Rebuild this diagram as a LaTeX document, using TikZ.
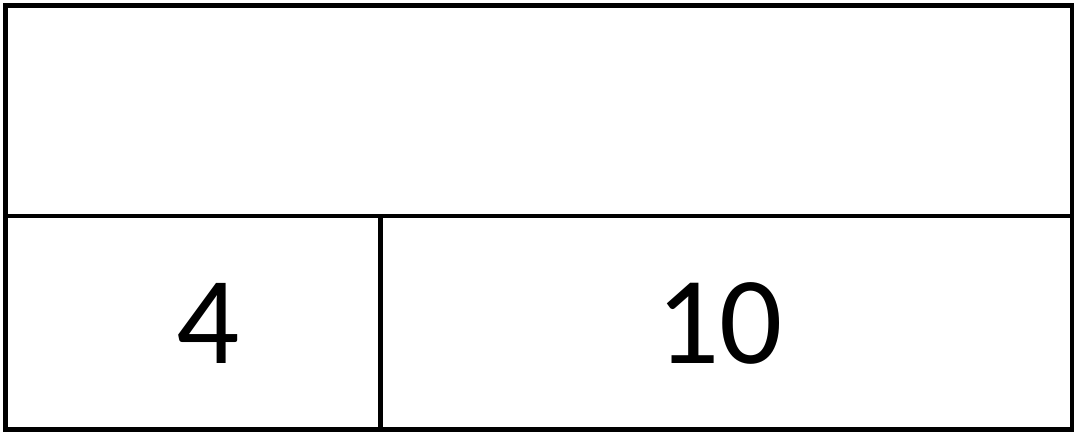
\documentclass[tikz,border=0pt]{standalone}
\usepackage{fontspec}
\setmainfont{Carlito}
\tikzset{
	frame/.style={line width=2.3pt},
	bignum/.style={font=\fontsize{71}{80}\selectfont, inner sep=0pt}
}
\begin{document}
\begin{tikzpicture}
		\useasboundingbox (0,0) rectangle (21.6,8.76);
		
		\coordinate (nw) at (0.11,8.65);
		\coordinate (se) at (21.44,0.17);
		\coordinate (midL) at (0.11,4.44);
		\coordinate (midR) at (21.44,4.44);
		\coordinate (splitT) at (7.61,4.44);
		\coordinate (splitB) at (7.61,0.17);
		
		\draw[frame] (nw) rectangle (se);
		\draw[frame] (midL) -- (midR);
		\draw[frame] (splitT) -- (splitB);
		
		\node[bignum] (four) at (4.16,2.30) {4};
		\node[bignum] (ten) at (14.39,2.30) {10};
		\end{tikzpicture}
\end{document}
